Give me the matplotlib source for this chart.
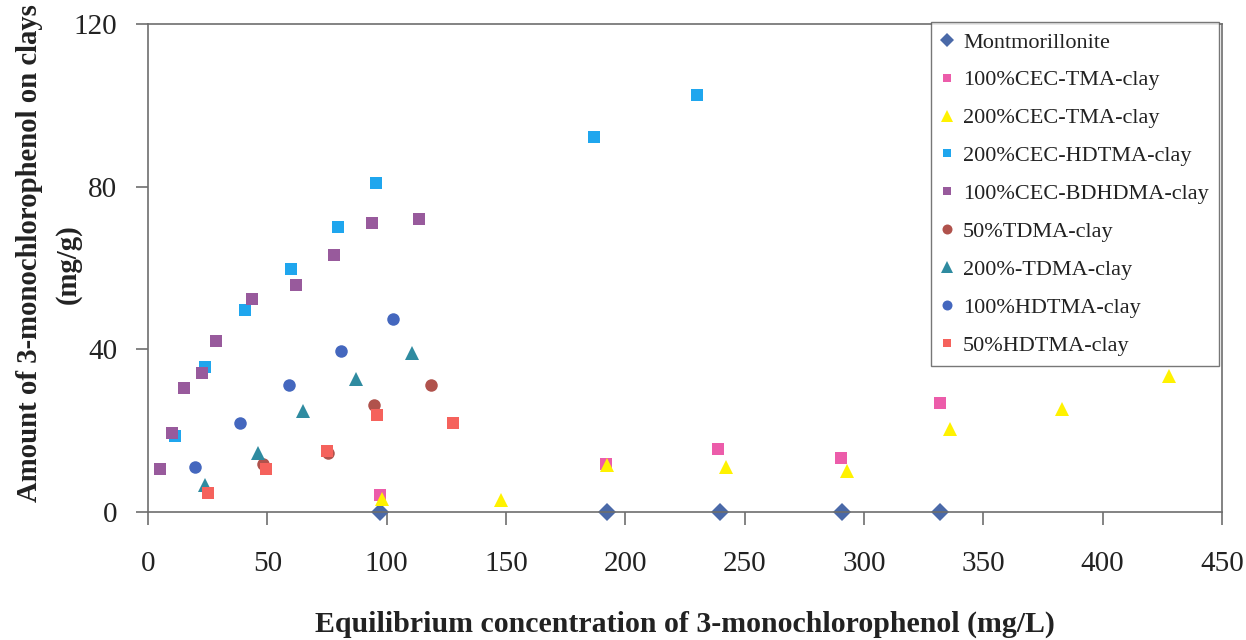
import matplotlib.pyplot as plt

plt.rcParams['font.family'] = ['Liberation Serif', 'DejaVu Serif']

# Montmorillonite
mont_x = [97, 192.5, 239.5, 291, 332]
mont_y = [0, 0, 0, 0, 0]
# 100%CEC-TMA-clay
tma100_x = [97, 192, 239, 290.5, 332]
tma100_y = [4.3, 11.7, 15.6, 13.2, 26.9]
# 200%CEC-TMA-clay
tma200_x = [98, 148, 192.5, 242, 293, 336, 383, 428]
tma200_y = [3.1, 2.9, 11.5, 11.1, 10.1, 20.5, 25.4, 33.4]
# 200%CEC-HDTMA-clay
hdtma200_x = [11.5, 24, 40.5, 60, 79.5, 95.5, 187, 230]
hdtma200_y = [18.7, 35.7, 49.6, 59.8, 70.2, 80.9, 92.3, 102.6]
# 100%CEC-BDHDMA-clay
bdhdma_x = [5, 10, 15, 22.5, 28.5, 43.5, 62, 78, 94, 113.5]
bdhdma_y = [10.6, 19.5, 30.4, 34.3, 42.0, 52.4, 55.9, 63.2, 71.1, 72.1]
# 50%TDMA-clay
tdma50_x = [48, 75.5, 94.5, 118.5]
tdma50_y = [11.9, 14.6, 26.4, 31.2]
# 200%-TDMA-clay
tdma200_x = [24, 46, 65, 87, 110.5]
tdma200_y = [6.6, 14.4, 24.9, 32.6, 39.1]
# 100%HDTMA-clay
hdtma100_x = [19.5, 38.5, 59, 81, 102.5]
hdtma100_y = [11.1, 21.9, 31.2, 39.5, 47.4]
# 50%HDTMA-clay
hdtma50_x = [25, 49.5, 75, 96, 128]
hdtma50_y = [4.7, 10.6, 15.0, 23.8, 21.9]

series = [
    ("Montmorillonite", mont_x, mont_y, "D", "#4A69A8", 9),
    ("100%CEC-TMA-clay", tma100_x, tma100_y, "s", "#EC5CAA", 8),
    ("200%CEC-TMA-clay", tma200_x, tma200_y, "^", "#FFF200", 10),
    ("200%CEC-HDTMA-clay", hdtma200_x, hdtma200_y, "s", "#1FA6EE", 8),
    ("100%CEC-BDHDMA-clay", bdhdma_x, bdhdma_y, "s", "#985A9C", 8),
    ("50%TDMA-clay", tdma50_x, tdma50_y, "o", "#B0524C", 9),
    ("200%-TDMA-clay", tdma200_x, tdma200_y, "^", "#2F8BA0", 10),
    ("100%HDTMA-clay", hdtma100_x, hdtma100_y, "o", "#4467BE", 9),
    ("50%HDTMA-clay", hdtma50_x, hdtma50_y, "s", "#F5625C", 8),
]

fig = plt.figure(figsize=(12.46, 6.4), dpi=100)
ax = fig.add_axes([0.1188, 0.2, 0.8619, 0.7625])

for label, xs, ys, m, c, ms in series:
    ax.plot(xs, ys, linestyle="none", marker=m, color=c, markersize=ms,
            markeredgewidth=0, label=label, clip_on=False)

ax.set_xlim(0, 450)
ax.set_ylim(0, 120)
ax.set_xticks(range(0, 451, 50))
ax.set_yticks([0, 40, 80, 120])

for s in ax.spines.values():
    s.set_color("#6E6E6E")
    s.set_linewidth(1.2)

ax.tick_params(axis="x", direction="out", length=9, width=1.2, color="#6E6E6E",
               labelsize=21, pad=19, labelcolor="#222222")
ax.tick_params(axis="y", direction="out", length=9, width=1.2, color="#6E6E6E",
               labelsize=21, pad=13, labelcolor="#222222")

ax.set_xlabel("Equilibrium concentration of 3-monochlorophenol (mg/L)",
              fontsize=21.5, fontweight="bold", labelpad=24, color="#222222")

# y label in two lines, placed separately
fig.text(30 / 1246, 1 - 253 / 640, "Amount of 3-monochlorophenol on clays",
         rotation=90, ha="center", va="center", fontsize=20.7,
         fontweight="bold", color="#222222")
fig.text(68 / 1246, 1 - 264 / 640, "(mg/g)",
         rotation=90, ha="center", va="center", fontsize=20.7,
         fontweight="bold", color="#222222")

leg = ax.legend(loc="upper right", bbox_to_anchor=(0.997, 1.004),
                borderaxespad=0, fontsize=16, frameon=True, fancybox=False,
                edgecolor="#555555", handlelength=0.6, handletextpad=0.4,
                labelspacing=0.78, borderpad=0.45, markerscale=0.8)
leg.get_frame().set_linewidth(1.0)
for t in leg.get_texts():
    t.set_color("#222222")

fig.savefig("out.png", dpi=100)
